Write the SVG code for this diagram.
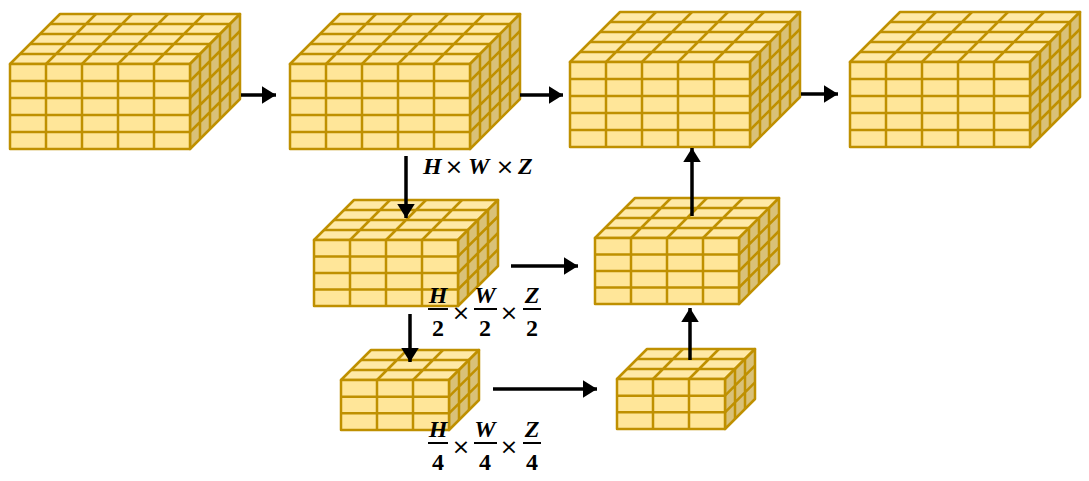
<svg xmlns="http://www.w3.org/2000/svg" xmlns:xlink="http://www.w3.org/1999/xlink" width="1089" height="481" viewBox="0 0 1089 481">
<style>
.f{fill:#FFE699;stroke:#BF9000;stroke-width:2.5;stroke-linejoin:round}
.t{fill:#FFE9A6;stroke:#BF9000;stroke-width:2.5;stroke-linejoin:round}
.s{fill:#D9C178;stroke:#BF9000;stroke-width:2.5;stroke-linejoin:round}
.g{fill:none;stroke:#BF9000;stroke-width:2.5}
.c{stroke:#000;stroke-width:3.5;fill:none;marker-end:url(#ah)}
.m{font-family:"Liberation Serif","DejaVu Serif",serif;font-weight:bold;font-style:italic;font-size:24px;fill:#000}
.n{font-family:"Liberation Serif","DejaVu Serif",serif;font-weight:bold;font-size:24px;fill:#000;text-anchor:middle}
.x{font-family:"DejaVu Sans",sans-serif;font-size:22px;fill:#000;text-anchor:middle}
.b{stroke:#000;stroke-width:2}
</style>
<defs>
<marker id="ah" markerWidth="5" markerHeight="5" refX="4" refY="2.5" orient="auto" markerUnits="strokeWidth"><path d="M0 0L4 2.5L0 5z" fill="#000"/></marker>
<g id="big">
<polygon class="t" points="0,0 180,0 230,-50 50,-50"/>
<path class="g" d="M36 0l50-50M72 0l50-50M108 0l50-50M144 0l50-50M10 -10h180M20 -20h180M30 -30h180M40 -40h180"/>
<polygon class="s" points="180,0 230,-50 230,35 180,85"/>
<path class="g" d="M190 -10v85M200 -20v85M210 -30v85M220 -40v85M180 17l50-50M180 34l50-50M180 51l50-50M180 68l50-50"/>
<rect class="f" x="0" y="0" width="180" height="85"/>
<path class="g" d="M36 0v85M72 0v85M108 0v85M144 0v85M0 17h180M0 34h180M0 51h180M0 68h180"/>
</g>
<g id="mid">
<polygon class="t" points="0,0 144,0 184,-40 40,-40"/>
<path class="g" d="M36 0l40-40M72 0l40-40M108 0l40-40M10 -10h144M20 -20h144M30 -30h144"/>
<polygon class="s" points="144,0 184,-40 184,26 144,66"/>
<path class="g" d="M154 -10v66M164 -20v66M174 -30v66M144 16.5l40-40M144 33l40-40M144 49.5l40-40"/>
<rect class="f" x="0" y="0" width="144" height="66"/>
<path class="g" d="M36 0v66M72 0v66M108 0v66M0 16.5h144M0 33h144M0 49.5h144"/>
</g>
<g id="sml">
<polygon class="t" points="0,0 108,0 138,-30 30,-30"/>
<path class="g" d="M36 0l30-30M72 0l30-30M10 -10h108M20 -20h108"/>
<polygon class="s" points="108,0 138,-30 138,20 108,50"/>
<path class="g" d="M118 -10v50M128 -20v50M108 16.67l30-30M108 33.33l30-30"/>
<rect class="f" x="0" y="0" width="108" height="50"/>
<path class="g" d="M36 0v50M72 0v50M0 16.67h108M0 33.33h108"/>
</g>
</defs>
<g id="block1"><use xlink:href="#big" transform="translate(10,64)"/></g>
<g id="block2"><use xlink:href="#big" transform="translate(290,64)"/></g>
<g id="block3"><use xlink:href="#big" transform="translate(570,62)"/></g>
<g id="block4"><use xlink:href="#big" transform="translate(850,62)"/></g>
<g id="half-enc"><use xlink:href="#mid" transform="translate(314,240)"/></g>
<g id="half-dec"><use xlink:href="#mid" transform="translate(595,238)"/></g>
<g id="quarter-enc"><use xlink:href="#sml" transform="translate(341,380)"/></g>
<g id="quarter-dec"><use xlink:href="#sml" transform="translate(617,379)"/></g>
<g id="connectors">
<path class="c" d="M241 95H276"/>
<path class="c" d="M520 95H563"/>
<path class="c" d="M801 94H838"/>
<path class="c" d="M406 156V218"/>
<path class="c" d="M511 266H578"/>
<path class="c" d="M410 314V362"/>
<path class="c" d="M493 389H597"/>
<path class="c" d="M690 360V308"/>
<path class="c" d="M692 216V148"/>
</g>
<g id="labels">
<text class="m" x="423" y="174">H</text><text class="x" x="454" y="174">×</text>
<text class="m" x="468" y="174">W</text><text class="x" x="505" y="174">×</text>
<text class="m" x="518" y="174">Z</text>
<text class="m" x="438" y="303" text-anchor="middle">H</text><line class="b" x1="428" y1="309" x2="448" y2="309"/><text class="n" x="438" y="336">2</text>
<text class="x" x="461" y="320">×</text>
<text class="m" x="485" y="303" text-anchor="middle">W</text><line class="b" x1="474" y1="309" x2="497" y2="309"/><text class="n" x="485" y="336">2</text>
<text class="x" x="509" y="320">×</text>
<text class="m" x="532" y="303" text-anchor="middle">Z</text><line class="b" x1="523" y1="309" x2="541" y2="309"/><text class="n" x="532" y="336">2</text>
<text class="m" x="438" y="437" text-anchor="middle">H</text><line class="b" x1="428" y1="443" x2="448" y2="443"/><text class="n" x="438" y="470">4</text>
<text class="x" x="461" y="454">×</text>
<text class="m" x="485" y="437" text-anchor="middle">W</text><line class="b" x1="474" y1="443" x2="497" y2="443"/><text class="n" x="485" y="470">4</text>
<text class="x" x="509" y="454">×</text>
<text class="m" x="532" y="437" text-anchor="middle">Z</text><line class="b" x1="523" y1="443" x2="541" y2="443"/><text class="n" x="532" y="470">4</text>
</g>
</svg>
